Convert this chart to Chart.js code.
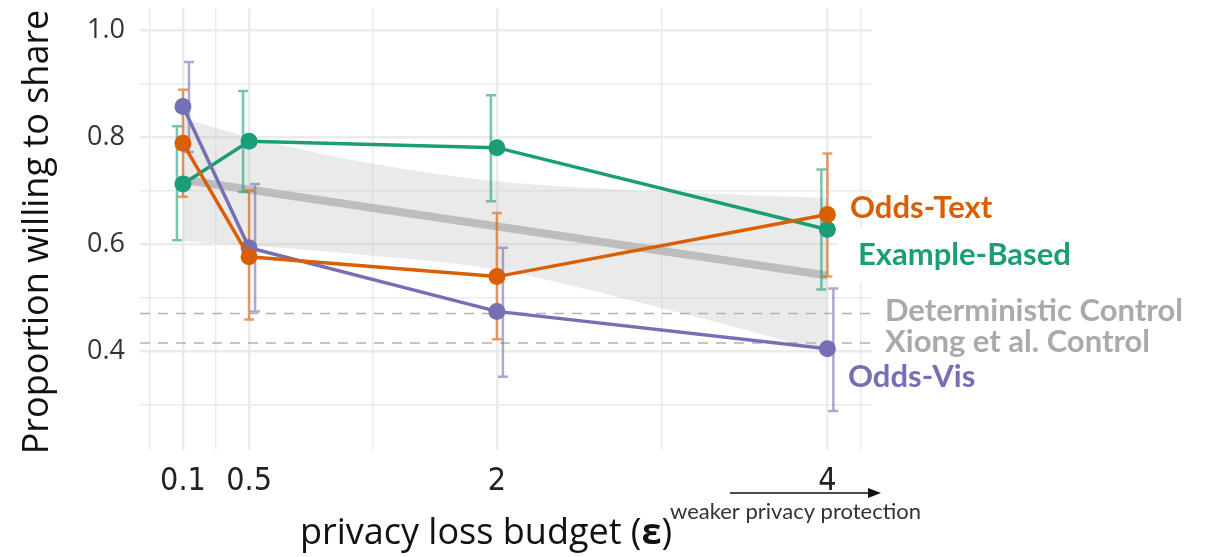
<!DOCTYPE html>
<html>
<head>
<meta charset="utf-8">
<script src="https://cdn.jsdelivr.net/npm/chart.js@4"></script>
<style>
  body { margin: 0; background: #fff; }
  #wrap { width: 1211px; height: 557px; position: relative; }
</style>
</head>
<body>
<div id="wrap"><canvas id="grafico"></canvas></div>
<script>
// privacy loss budgets (x)
const budgets = [0.1, 0.5, 2, 4];

// Odds-Text
const oddsText = [0.788, 0.576, 0.539, 0.655];
const oddsTextLow = [0.688, 0.459, 0.422, 0.539];
const oddsTextHigh = [0.888, 0.700, 0.658, 0.769];

// Example-Based
const exampleBased = [0.712, 0.792, 0.780, 0.627];
const exampleBasedLow = [0.607, 0.697, 0.680, 0.515];
const exampleBasedHigh = [0.820, 0.886, 0.878, 0.739];

// Odds-Vis
const oddsVis = [0.857, 0.593, 0.474, 0.404];
const oddsVisLow = [0.772, 0.474, 0.352, 0.288];
const oddsVisHigh = [0.940, 0.712, 0.593, 0.517];

// regression line + confidence band
const fitX = [0.1, 4];
const fitY = [0.720, 0.541];
const bandX = [0.1, 0.5, 1.25, 2, 3, 4];
const bandLow = [0.605, 0.597, 0.578, 0.552, 0.480, 0.398];
const bandHigh = [0.835, 0.800, 0.750, 0.717, 0.698, 0.686];

// controls
const deterministicControl = 0.470;
const xiongControl = 0.415;

// ticks
const xMajor = [0.1, 0.5, 2, 4];
const xGrid = [-0.1, 0.1, 0.3, 0.5, 1.25, 2, 3, 4, 4.2];
const yMajor = [0.4, 0.6, 0.8, 1.0];
const yGrid = [0.3, 0.4, 0.5, 0.6, 0.7, 0.8, 0.9, 1.0];

const X_MIN = -0.16, X_MAX = 4.27;

const cores = {
    texto: '#d95f02',
    exemplo: '#1b9e77',
    vis: '#7570b3',
    cinza: '#aaaaaa'
};

function pontos(xs, ys) {
    return xs.map((x, i) => ({ x: x, y: ys[i] }));
}

function serie(label, ys, cor) {
    return {
        label: label,
        data: pontos(budgets, ys),
        showLine: true,
        borderColor: cor,
        backgroundColor: cor,
        borderWidth: 3.5,
        pointRadius: 8.5,
        pointBorderWidth: 0,
        pointHoverRadius: 8.5
    };
}

function linhaControle(label, valor) {
    return {
        label: label,
        data: [{ x: X_MIN, y: valor }, { x: X_MAX, y: valor }],
        showLine: true,
        borderColor: '#b3b3b3',
        borderWidth: 1.6,
        borderDash: [10, 8],
        pointRadius: 0
    };
}

// error bars drawn from the data through the scales
const barrasErro = [
    { low: exampleBasedLow, high: exampleBasedHigh, cor: 'rgba(27,158,119,0.6)', dx: -6 },
    { low: oddsTextLow, high: oddsTextHigh, cor: 'rgba(217,95,2,0.6)', dx: 0 },
    { low: oddsVisLow, high: oddsVisHigh, cor: 'rgba(117,112,179,0.6)', dx: 6 }
];

const pluginErro = {
    id: 'barrasErro',
    afterDatasetDraw(chart, args) {
        if (args.meta.label !== 'Xiong et al. Control') return;
        const ctx = chart.ctx;
        const xs = chart.scales.x, ys = chart.scales.y;
        ctx.save();
        barrasErro.forEach(b => {
            ctx.strokeStyle = b.cor;
            ctx.lineWidth = 2.5;
            budgets.forEach((v, i) => {
                const px = xs.getPixelForValue(v) + b.dx;
                const y1 = ys.getPixelForValue(b.low[i]);
                const y2 = ys.getPixelForValue(b.high[i]);
                ctx.beginPath();
                ctx.moveTo(px, y1); ctx.lineTo(px, y2);
                ctx.moveTo(px - 5, y1); ctx.lineTo(px + 5, y1);
                ctx.moveTo(px - 5, y2); ctx.lineTo(px + 5, y2);
                ctx.stroke();
            });
        });
        ctx.restore();
    }
};

const pluginMascara = {
    id: 'mascara',
    beforeDatasetsDraw(chart) {
        const ctx = chart.ctx;
        ctx.save();
        ctx.fillStyle = '#ffffff';
        ctx.fillRect(837, 228, 245, 54);
        ctx.restore();
    }
};

const pluginTextos = {
    id: 'textos',
    afterDraw(chart) {
        const ctx = chart.ctx;
        ctx.save();
        ctx.textBaseline = 'middle';
        ctx.textAlign = 'left';
        // labels at the right
        ctx.font = 'bold 31px Lato';
        ctx.fillStyle = cores.texto;
        ctx.fillText('Odds-Text', 850, 208);
        ctx.fillStyle = cores.exemplo;
        ctx.fillText('Example-Based', 858, 255);
        ctx.fillStyle = cores.vis;
        ctx.fillText('Odds-Vis', 848, 377);
        ctx.fillStyle = cores.cinza;
        ctx.fillText('Deterministic Control', 885, 311);
        ctx.fillText('Xiong et al. Control', 885, 342);

        // y title
        ctx.fillStyle = '#111';
        ctx.font = '36px "Open Sans"';
        ctx.save();
        ctx.translate(38, 232);
        ctx.rotate(-Math.PI / 2);
        ctx.textAlign = 'center';
        ctx.fillText('Proportion willing to share', 0, 0);
        ctx.restore();

        // x title
        const t1 = 'privacy loss budget (';
        ctx.font = '36px "Open Sans"';
        const w1 = ctx.measureText(t1).width;
        ctx.font = 'bold 36px "Open Sans"';
        const w2 = ctx.measureText('ε').width;
        ctx.font = '36px "Open Sans"';
        const w3 = ctx.measureText(')').width;
        let x0 = 486 - (w1 + w2 + w3) / 2;
        ctx.fillText(t1, x0, 534);
        ctx.font = 'bold 36px "Open Sans"';
        ctx.fillText('ε', x0 + w1, 534);
        ctx.font = '36px "Open Sans"';
        ctx.fillText(')', x0 + w1 + w2, 534);

        // arrow + note
        ctx.strokeStyle = '#111';
        ctx.fillStyle = '#111';
        ctx.lineWidth = 1.5;
        ctx.beginPath();
        ctx.moveTo(730, 493); ctx.lineTo(870, 493);
        ctx.stroke();
        ctx.beginPath();
        ctx.moveTo(881, 493); ctx.lineTo(868, 488); ctx.lineTo(868, 498);
        ctx.closePath(); ctx.fill();
        ctx.font = '22px Lato';
        ctx.fillStyle = '#333';
        ctx.fillText('weaker privacy protection', 670, 512);
        ctx.restore();
    }
};

const canvasElement = document.getElementById('grafico');
const chartInstance = new Chart(canvasElement.getContext('2d'), {
    type: 'scatter',
    data: {
        datasets: [
            serie('Odds-Text', oddsText, cores.texto),
            serie('Odds-Vis', oddsVis, cores.vis),
            serie('Example-Based', exampleBased, cores.exemplo),
            linhaControle('Deterministic Control', deterministicControl),
            linhaControle('Xiong et al. Control', xiongControl),
            {
                label: 'fit',
                data: pontos(fitX, fitY),
                showLine: true,
                borderColor: '#bdbdbd',
                borderWidth: 8,
                pointRadius: 0
            },
            {
                label: 'bandHigh',
                data: pontos(bandX, bandHigh),
                showLine: true,
                cubicInterpolationMode: 'monotone',
                borderWidth: 0,
                borderColor: 'rgba(0,0,0,0)',
                backgroundColor: 'rgba(200,200,200,0.38)',
                pointRadius: 0,
                fill: '+1'
            },
            {
                label: 'bandLow',
                data: pontos(bandX, bandLow),
                showLine: true,
                cubicInterpolationMode: 'monotone',
                borderWidth: 0,
                borderColor: 'rgba(0,0,0,0)',
                pointRadius: 0
            }
        ]
    },
    options: {
        responsive: true,
        maintainAspectRatio: false,
        animation: false,
        layout: { padding: { top: 5, right: 339, left: 0, bottom: 0 } },
        scales: {
            x: {
                type: 'linear',
                min: X_MIN,
                max: X_MAX,
                afterBuildTicks: s => { s.ticks = xGrid.map(v => ({ value: v })); },
                afterFit: s => { s.height = 107; s.paddingLeft = 0; s.paddingRight = 0; },
                border: { display: false },
                grid: {
                    color: '#ebebeb',
                    lineWidth: c => xMajor.includes(c.tick.value) ? 2.5 : 1.5,
                    drawTicks: false
                },
                ticks: {
                    padding: 12,
                    color: '#222',
                    font: { family: '"Liberation Sans Narrow", "DejaVu Sans Condensed", sans-serif', size: 32 },
                    maxRotation: 0,
                    autoSkip: false,
                    callback: v => xMajor.includes(v) ? String(v) : ''
                }
            },
            y: {
                min: 0.215,
                max: 1.04,
                afterBuildTicks: s => { s.ticks = yGrid.map(v => ({ value: v })); },
                afterFit: s => { s.width = 140; s.paddingTop = 0; s.paddingBottom = 0; },
                border: { display: false },
                grid: {
                    color: '#ebebeb',
                    lineWidth: c => yMajor.some(m => Math.abs(m - c.tick.value) < 1e-6) ? 2.5 : 1.5,
                    drawTicks: false
                },
                ticks: {
                    padding: 15,
                    color: '#333',
                    font: { family: '"Open Sans"', size: 27 },
                    autoSkip: false,
                    callback: v => yMajor.some(m => Math.abs(m - v) < 1e-6) ? v.toFixed(1) : ''
                }
            }
        },
        plugins: {
            legend: { display: false },
            tooltip: { enabled: false },
            filler: { propagate: false }
        }
    },
    plugins: [pluginMascara, pluginErro, pluginTextos]
});
</script>
</body>
</html>
